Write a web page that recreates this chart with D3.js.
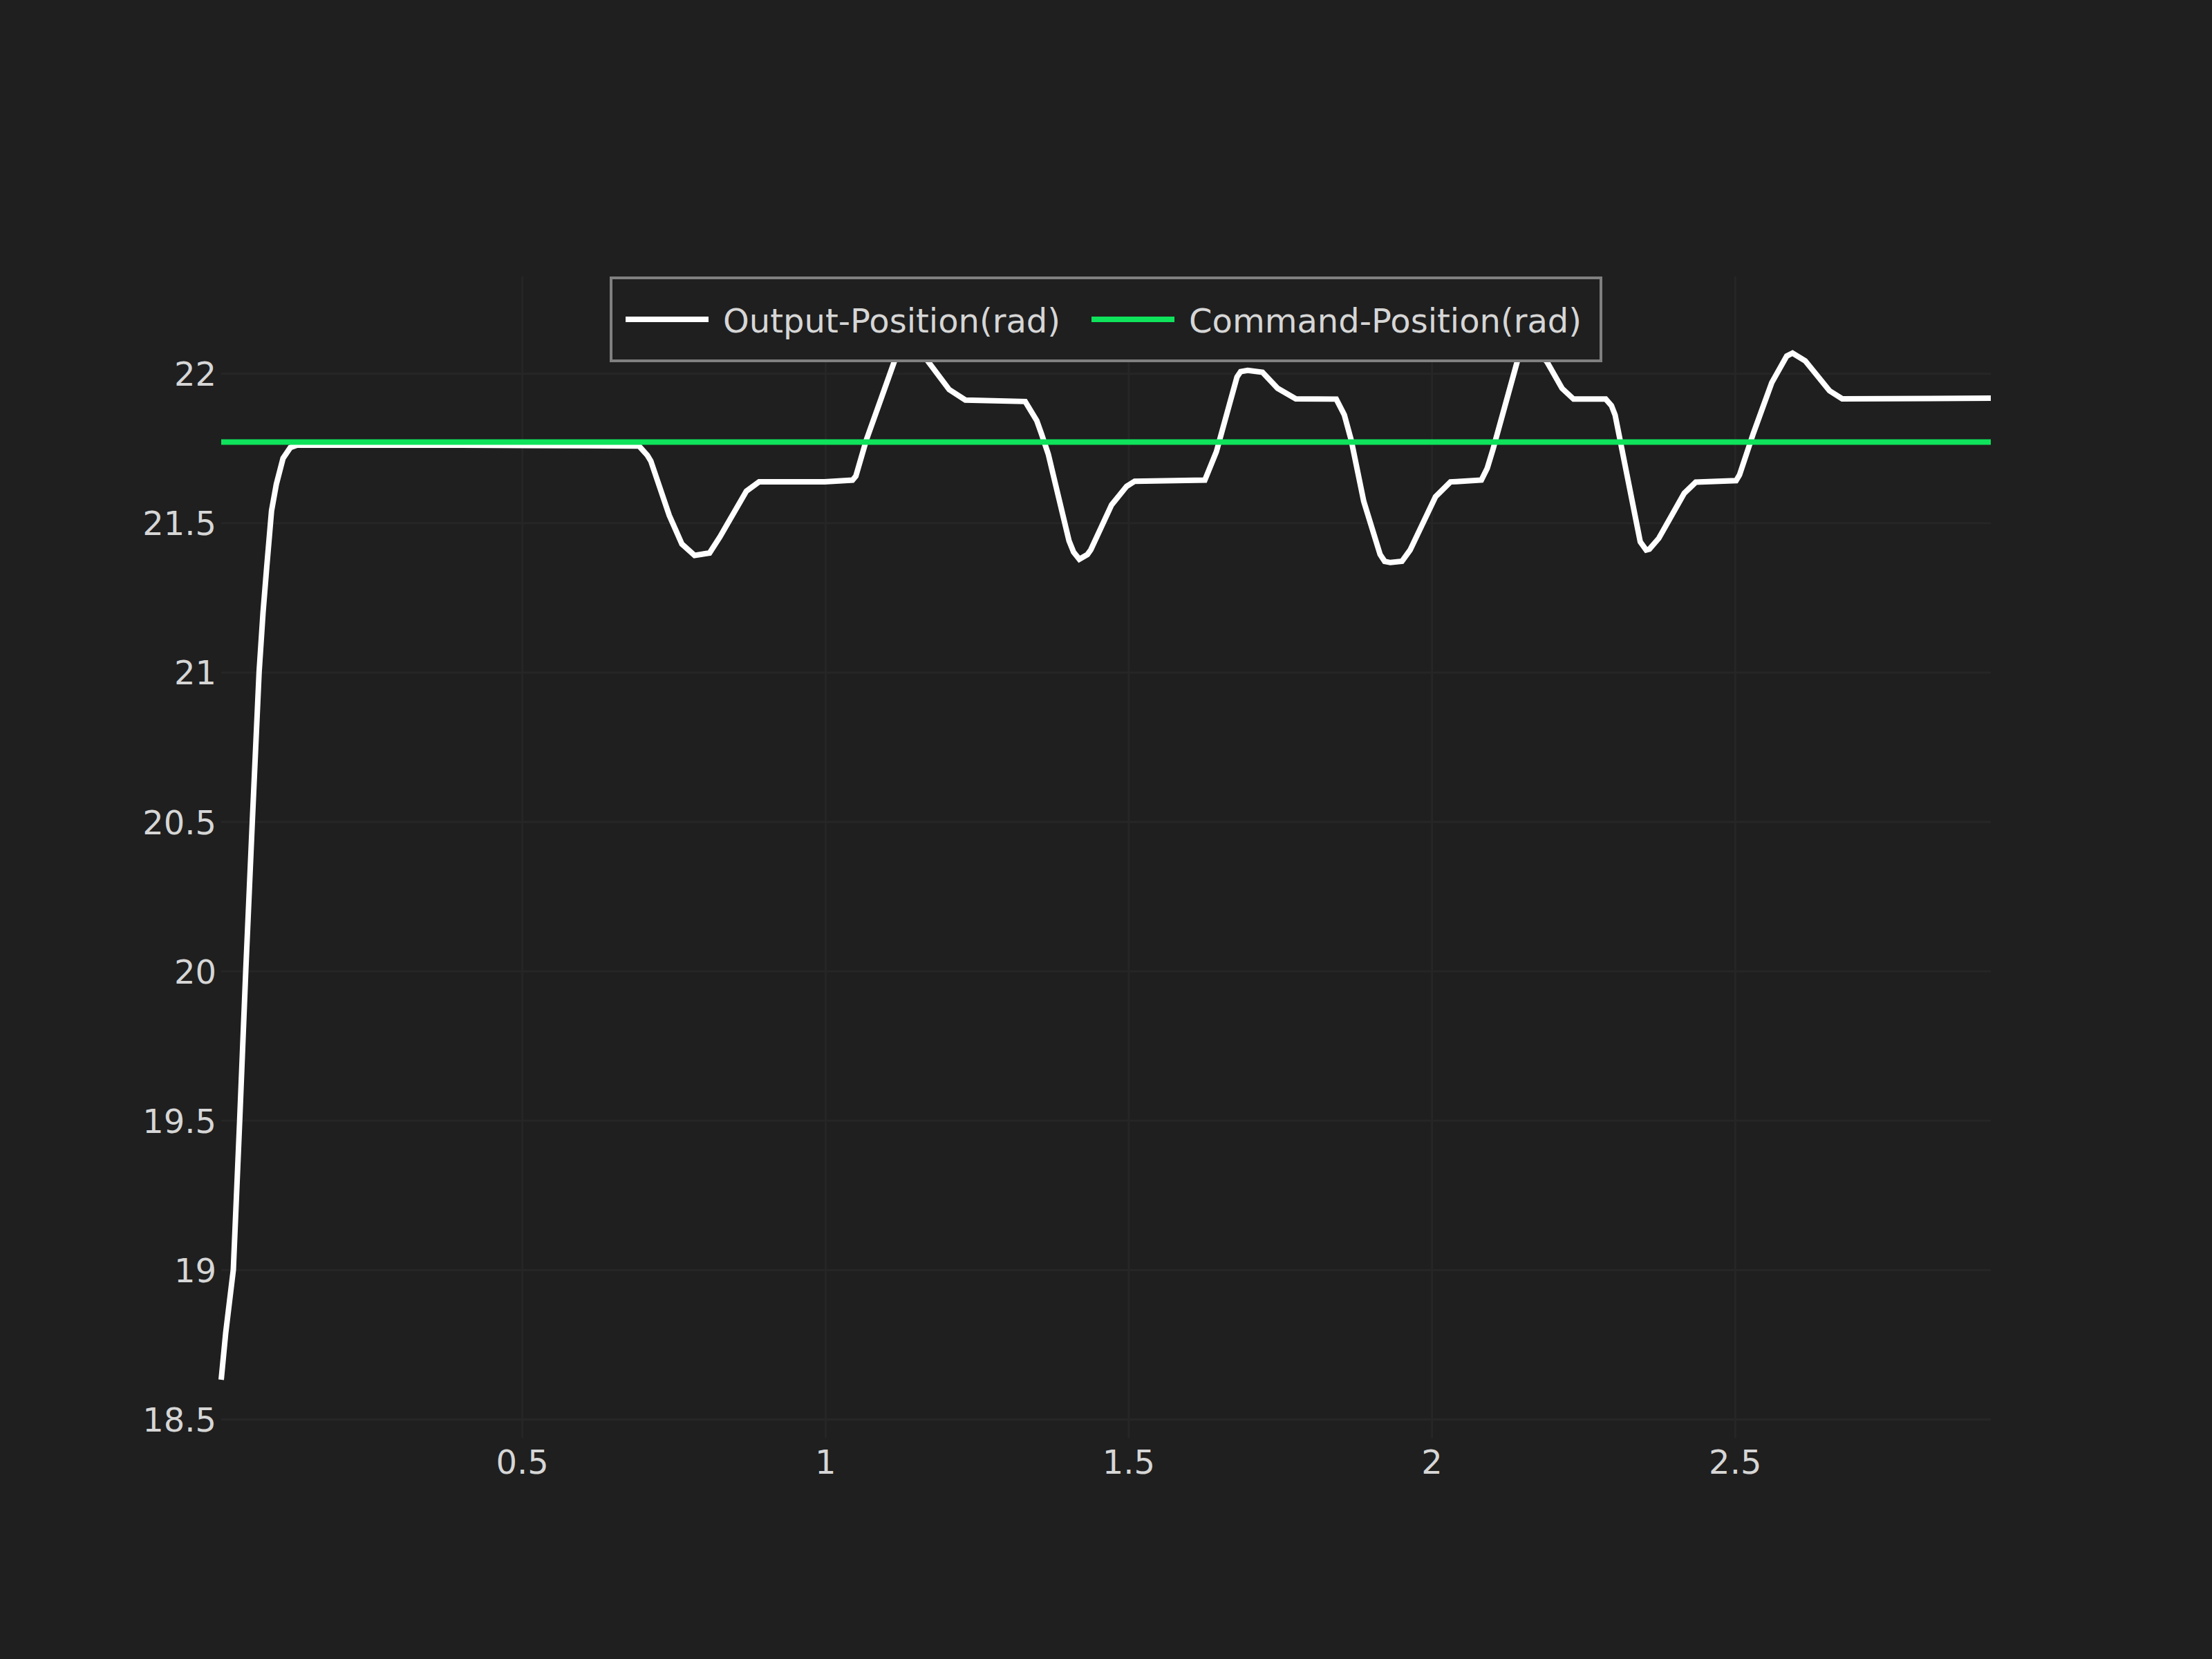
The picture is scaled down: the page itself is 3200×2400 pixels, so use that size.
<!DOCTYPE html>
<html>
<head>
<meta charset="utf-8">
<script src="https://cdn.jsdelivr.net/npm/d3@7"></script>
<style>
  html, body { margin: 0; padding: 0; background: #1f1f1f; }
  svg { display: block; }
</style>
</head>
<body>
<script>
// ---- data ----
const seriesNames = ["Output-Position(rad)", "Command-Position(rad)"];
const outputTime = [
  0.004, 0.0115, 0.024, 0.0345, 0.0445, 0.0553, 0.0665, 0.073, 0.079, 0.087, 0.095, 0.106, 0.118, 0.129,
  0.40, 0.60, 0.693, 0.7067, 0.7124, 0.7428, 0.7637, 0.7846, 0.8093, 0.8264, 0.870, 0.891, 0.999, 1.045,
  1.0505, 1.0676, 1.0866, 1.115, 1.136, 1.170, 1.2044, 1.2311, 1.3298, 1.3488, 1.3564, 1.3678, 1.402,
  1.4096, 1.419, 1.4324, 1.438, 1.4722, 1.497, 1.5103, 1.626, 1.645, 1.679, 1.685, 1.6966, 1.721, 1.746,
  1.776, 1.8427, 1.856, 1.8674, 1.888, 1.915, 1.9225, 1.932, 1.951, 1.9645, 2.0063, 2.031, 2.0405, 2.082,
  2.0917, 2.101, 2.141, 2.157, 2.190, 2.215, 2.234, 2.287, 2.2965, 2.3025, 2.344, 2.3537, 2.359, 2.3745,
  2.4165, 2.4355, 2.502, 2.5076, 2.5304, 2.5608, 2.5855, 2.595, 2.616, 2.656, 2.677, 2.922
];
const outputValue = [
  18.632, 18.79, 19.0, 19.5, 20.0, 20.5, 21.0, 21.2, 21.35, 21.54, 21.63, 21.716, 21.752, 21.760,
  21.760, 21.758, 21.757, 21.726, 21.707, 21.525, 21.429, 21.391, 21.399, 21.453, 21.606, 21.637, 21.637, 21.643,
  21.656, 21.776, 21.884, 22.046, 22.13, 22.039, 21.946, 21.911, 21.906, 21.842, 21.799, 21.730, 21.440,
  21.402, 21.378, 21.394, 21.41, 21.560, 21.622, 21.639, 21.643, 21.738, 21.988, 22.006, 22.010, 22.004, 21.950,
  21.915, 21.914, 21.861, 21.776, 21.572, 21.394, 21.371, 21.367, 21.371, 21.409, 21.587, 21.637, 21.638, 21.643,
  21.683, 21.745, 22.039, 22.12, 22.039, 21.950, 21.914, 21.914, 21.892, 21.861, 21.436, 21.409, 21.412, 21.448,
  21.599, 21.636, 21.641, 21.660, 21.799, 21.969, 22.058, 22.068, 22.042, 21.942, 21.915, 21.917
];
const commandTime = [0.004, 2.922];
const commandValue = [21.77, 21.77];
const xTicks = [0.5, 1, 1.5, 2, 2.5];
const yTicks = [18.5, 19, 19.5, 20, 20.5, 21, 21.5, 22];

// ---- layout ----
const W = 3200, H = 2400;
const plot = { left: 320, right: 2880, top: 400, bottom: 2080 };
const FONT = "'DejaVu Sans', Verdana, sans-serif";
const TEXT_COLOR = "#d6d6d6";
const GRID_COLOR = "#262626";
const OUT_COLOR = "#ffffff";
const CMD_COLOR = "#0ee35b";

const svg = d3.select("body").append("svg")
  .attr("width", W).attr("height", H)
  .style("background", "#1f1f1f");

const outPts = outputTime.map((t, i) => [t, outputValue[i]]);
const cmdPts = commandTime.map((t, i) => [t, commandValue[i]]);

const allT = outputTime.concat(commandTime);
const allV = outputValue.concat(commandValue);
const x = d3.scaleLinear().domain(d3.extent(allT)).range([plot.left, plot.right]);
const [vmin, vmax] = d3.extent(allV);
const plotH = plot.bottom - plot.top;
const padFrac = 84 / (plotH - 168);
const pad = (vmax - vmin) * padFrac;
const y = d3.scaleLinear().domain([vmin - pad, vmax + pad]).range([plot.bottom, plot.top]);

// gridlines + labels via axes
const xAxis = d3.axisBottom(x).tickValues(xTicks).tickFormat(d => String(d))
  .tickSize(-(plot.bottom - plot.top)).tickSizeOuter(0);
const gx = svg.append("g").attr("transform", `translate(0,${plot.bottom})`).call(xAxis);
gx.select(".domain").remove();
gx.selectAll(".tick line").attr("stroke", GRID_COLOR).attr("stroke-width", 3);
gx.selectAll(".tick text").attr("y", 51.7).attr("dy", 0)
  .attr("fill", TEXT_COLOR).style("font-family", FONT).style("font-size", "48px");

const yAxis = d3.axisLeft(y).tickValues(yTicks).tickFormat(d => String(d))
  .tickSize(-(plot.right - plot.left)).tickSizeOuter(0);
const gy = svg.append("g").attr("transform", `translate(${plot.left},0)`).call(yAxis);
gy.select(".domain").remove();
gy.selectAll(".tick line").attr("stroke", GRID_COLOR).attr("stroke-width", 3);
gy.selectAll(".tick text").attr("x", -7).attr("y", 17.5).attr("dy", 0)
  .attr("text-anchor", "end")
  .attr("fill", TEXT_COLOR).style("font-family", FONT).style("font-size", "48px");

// lines
const line = d3.line().x(d => x(d[0])).y(d => y(d[1]));
svg.append("path").datum(outPts)
  .attr("d", line).attr("fill", "none")
  .attr("stroke", OUT_COLOR).attr("stroke-width", 8);
svg.append("path").datum(cmdPts)
  .attr("d", line).attr("fill", "none")
  .attr("stroke", CMD_COLOR).attr("stroke-width", 8);

// legend
const lg = svg.append("g");
const legendRect = lg.append("rect");
const colors = [OUT_COLOR, CMD_COLOR];
const texts = seriesNames.map(n => lg.append("text").text(n)
  .attr("fill", TEXT_COLOR).style("font-family", FONT).style("font-size", "48px"));
const widths = texts.map(t => t.node().getComputedTextLength());
const totalW = 23 + 120 + 21 + widths[0] + 45 + 120 + 21 + widths[1] + 30;
const left = (plot.left + plot.right) / 2 - totalW / 2;
const cy = 462;
legendRect.attr("x", left + 2).attr("y", 402).attr("width", totalW - 4).attr("height", 120)
  .attr("fill", "#1f1f1f").attr("stroke", "#808080").attr("stroke-width", 4);
let cx = left + 23;
seriesNames.forEach((n, i) => {
  lg.append("line").attr("x1", cx).attr("x2", cx + 120).attr("y1", cy).attr("y2", cy)
    .attr("stroke", colors[i]).attr("stroke-width", 8);
  texts[i].attr("x", cx + 141).attr("y", 481);
  cx = cx + 141 + widths[i] + 45;
});
</script>
</body>
</html>
